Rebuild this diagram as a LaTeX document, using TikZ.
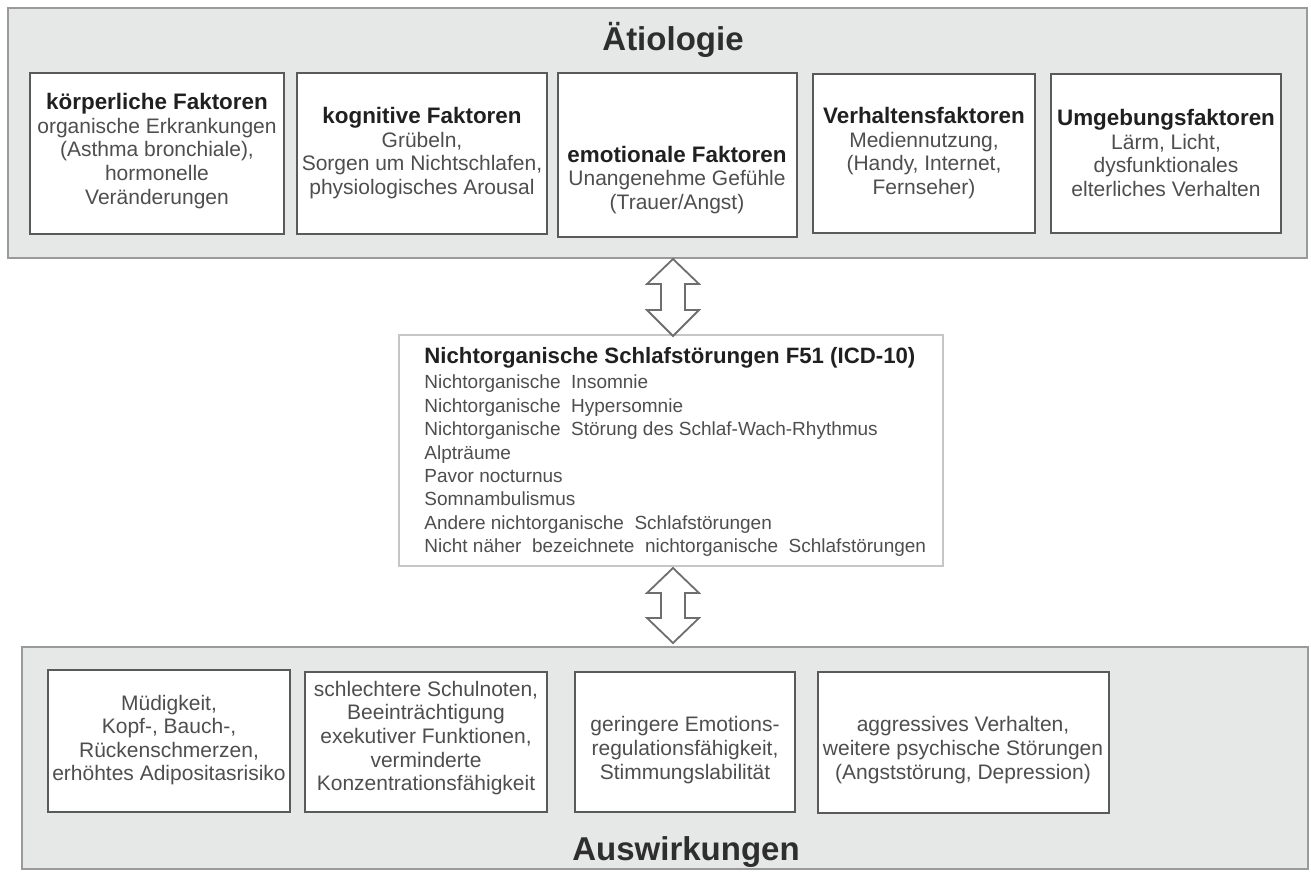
\documentclass[tikz,border=0pt]{standalone}
\usepackage{fontspec}
\setmainfont{Liberation Sans}
\usetikzlibrary{fit}
\definecolor{panelfill}{HTML}{E6E7E7}
\definecolor{panelline}{HTML}{9A9A9A}
\definecolor{boxline}{HTML}{5A5A5A}
\definecolor{midline}{HTML}{C6C6C6}
\definecolor{headcol}{HTML}{202020}
\definecolor{bodycol}{HTML}{4E4E4E}
\definecolor{titlecol}{HTML}{2E2E2E}
\definecolor{arrowline}{HTML}{6E6E6E}
\newcommand{\mkhead}[1]{{\fontsize{11.2}{11.8}\selectfont\bfseries\color{headcol}#1}}
\begin{document}
\begin{tikzpicture}[x=0.5pt,y=-0.5pt,
  panel/.style={draw=panelline,fill=panelfill,line width=1pt,inner sep=0pt},
  fbox/.style={draw=boxline,fill=white,line width=0.9pt,inner sep=0pt},
  midbox/.style={draw=midline,fill=white,line width=1.4pt,inner sep=0pt},
  bodytext/.style={align=center,inner sep=0pt,text=bodycol,font=\fontsize{10.5}{11.8}\selectfont},
  midtext/.style={align=left,inner sep=0pt,text=bodycol,font=\fontsize{9.5}{11.7}\selectfont},
  titletext/.style={inner sep=0pt,text=titlecol,font=\fontsize{16.5}{18}\selectfont\bfseries},
  dblarrow/.style={draw=arrowline,fill=white,line width=0.9pt,line join=miter}]
\useasboundingbox (0,0) rectangle (1311,872);
\fill[white] (0,0) rectangle (1311,872);

% panels
\node[panel,fit={(8,8) (1307,258)}] (top) {};
\node[panel,fit={(22,647) (1308,869)}] (bottom) {};

\node[titletext,anchor=base] (ttop) at (673,51) {Ätiologie};
\node[titletext,anchor=base] (tbot) at (686,860) {Auswirkungen};

% top boxes
\node[fbox,fit={(30,73) (284,234)}] (b1) {};
\node[fbox,fit={(297,73) (547,234)}] (b2) {};
\node[fbox,fit={(558,73) (797,237)}] (b3) {};
\node[fbox,fit={(813,74) (1035,233)}] (b4) {};
\node[fbox,fit={(1051,74) (1281,233)}] (b5) {};

\node[bodytext] (t1) at (157,151) {\mkhead{körperliche Faktoren}\\organische Erkrankungen\\(Asthma bronchiale),\\hormonelle\\Veränderungen};
\node[bodytext] (t2) at (422,153) {\mkhead{kognitive Faktoren}\\Grübeln,\\Sorgen um Nichtschlafen,\\physiologisches Arousal};
\node[bodytext] (t3) at (677,180) {\mkhead{emotionale Faktoren}\\Unangenehme Gefühle\\(Trauer/Angst)};
\node[bodytext] (t4) at (924,153) {\mkhead{Verhaltensfaktoren}\\Mediennutzung,\\(Handy, Internet,\\Fernseher)};
\node[bodytext] (t5) at (1166,153) {\mkhead{Umgebungsfaktoren}\\Lärm, Licht,\\dysfunktionales\\elterliches Verhalten};

% middle box
\node[midbox,fit={(399,335) (943,566)}] (mid) {};
\node[midtext,anchor=west] (tmid) at (424,452) {{\fontsize{11.1}{11.7}\selectfont\bfseries\color{headcol}Nichtorganische Schlafstörungen F51 (ICD-10)}\\[1pt]
Nichtorganische\ \ Insomnie\\
Nichtorganische\ \ Hypersomnie\\
Nichtorganische\ \ Störung des Schlaf-Wach-Rhythmus\\
Alpträume\\
Pavor nocturnus\\
Somnambulismus\\
Andere nichtorganische\ \ Schlafstörungen\\
Nicht näher\ \ bezeichnete\ \ nichtorganische\ \ Schlafstörungen};

% bottom boxes
\node[fbox,fit={(48,670) (290,812)}] (bA) {};
\node[fbox,fit={(305,672) (547,812)}] (bB) {};
\node[fbox,fit={(575,672) (795,812)}] (bC) {};
\node[fbox,fit={(818,672) (1109,813)}] (bD) {};

\node[bodytext] (tA) at (169,740) {Müdigkeit,\\Kopf-, Bauch-,\\Rückenschmerzen,\\erhöhtes Adipositasrisiko};
\node[bodytext] (tB) at (426,738) {schlechtere Schulnoten,\\Beeinträchtigung\\exekutiver Funktionen,\\verminderte\\Konzentrationsfähigkeit};
\node[bodytext] (tC) at (685,750) {geringere Emotions-\\regulationsfähigkeit,\\Stimmungslabilität};
\node[bodytext] (tD) at (963,750) {aggressives Verhalten,\\weitere psychische Störungen\\(Angststörung, Depression)};

% double arrows
\coordinate (a1) at (673,259);
\coordinate (a2) at (673,568);
\draw[dblarrow] (a1) -- ++(26,25) -- ++(-14,0) -- ++(0,26) -- ++(14,0) -- ++(-26,26)
  -- ++(-26,-26) -- ++(14,0) -- ++(0,-26) -- ++(-14,0) -- cycle;
\draw[dblarrow] (a2) -- ++(26,25) -- ++(-14,0) -- ++(0,25) -- ++(14,0) -- ++(-26,25)
  -- ++(-26,-25) -- ++(14,0) -- ++(0,-25) -- ++(-14,0) -- cycle;
\end{tikzpicture}
\end{document}
